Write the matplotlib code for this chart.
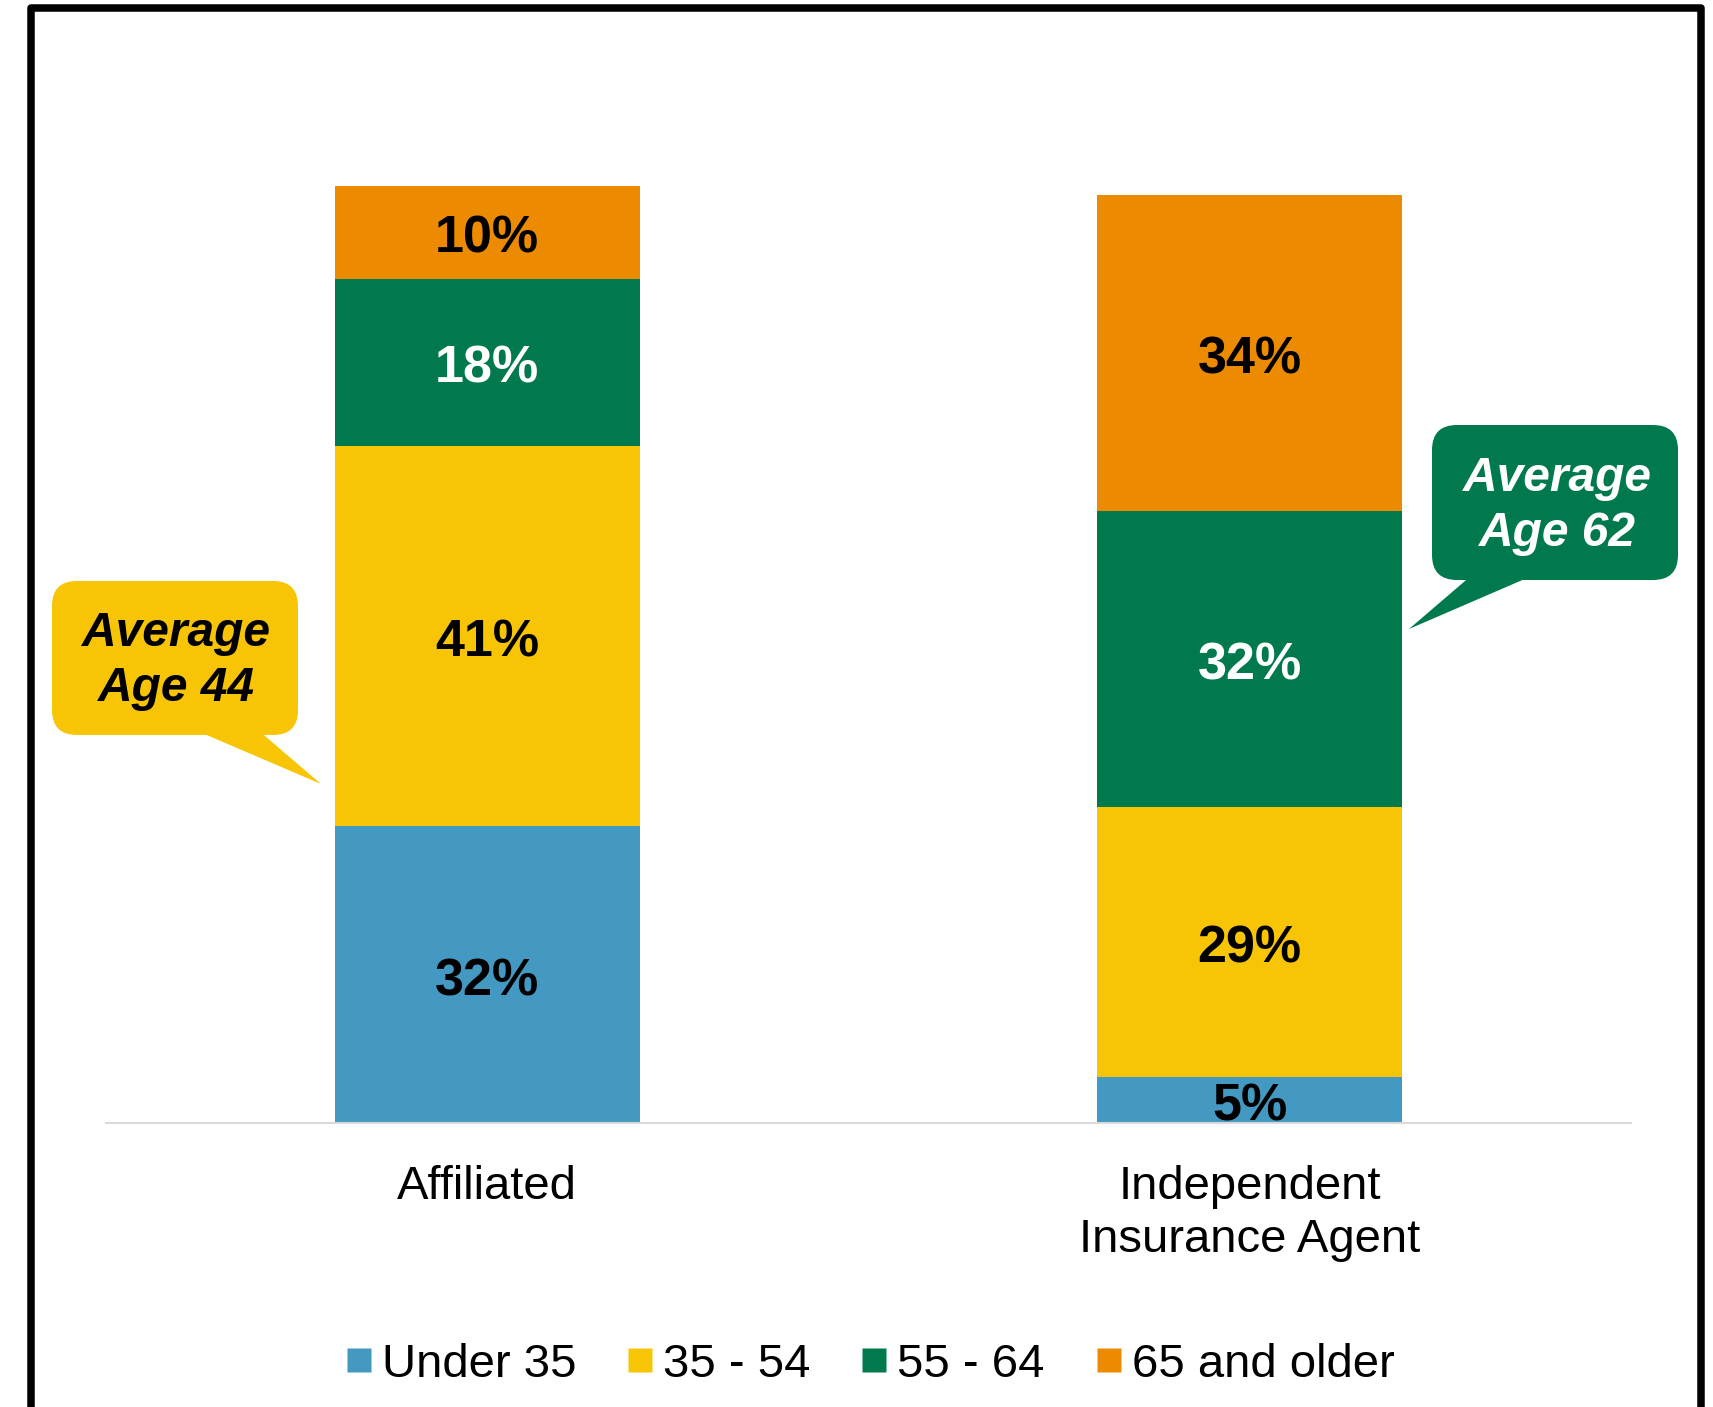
import matplotlib
matplotlib.use("Agg")
import matplotlib.pyplot as plt
from matplotlib.patches import FancyBboxPatch, Polygon, PathPatch
from matplotlib.path import Path
from matplotlib.lines import Line2D
from matplotlib.transforms import Affine2D, ScaledTranslation

# --- data -------------------------------------------------------------
categories = ["Affiliated", "Independent\nInsurance Agent"]
age_groups = ["Under 35", "35 - 54", "55 - 64", "65 and older"]
under_35 = [32, 5]
age_35_54 = [41, 29]
age_55_64 = [18, 32]
age_65_plus = [10, 34]
average_age = [44, 62]

series = [under_35, age_35_54, age_55_64, age_65_plus]
colors = ["#4399C1", "#F7C505", "#007A4D", "#ED8B00"]
label_colors = ["black", "black", "white", "black"]

# --- figure -----------------------------------------------------------
W, H = 1713, 1407
DPI = 100
plt.rcParams["font.family"] = ["Liberation Sans", "DejaVu Sans"]
fig = plt.figure(figsize=(W / DPI, H / DPI), dpi=DPI)

# pixel coordinates with the origin at the top-left corner
px = Affine2D().scale(1 / DPI, -1 / DPI).translate(0, H / DPI) + fig.dpi_scale_trans

ax = fig.add_axes([106 / W, (H - 1123) / H, (1631 - 106) / W, 1020.8 / H])
ax.set_xlim(-0.5, 1.5)
ax.set_ylim(0, 110)

# segment labels sit a touch below the geometric centre
label_shift = ax.transData + ScaledTranslation(0, -7 / DPI, fig.dpi_scale_trans)

x = list(range(len(categories)))
bottom = [0] * len(categories)
for vals, col, lcol in zip(series, colors, label_colors):
    ax.bar(x, vals, width=0.4, bottom=bottom, color=col, edgecolor="none")
    for xi, b, v in zip(x, bottom, vals):
        ax.text(xi, b + v / 2, f"{v}%", ha="center", va="center",
                fontsize=37.5, fontweight="bold", color=lcol,
                transform=label_shift)
    bottom = [b + v for b, v in zip(bottom, vals)]

for s in ["top", "right", "left"]:
    ax.spines[s].set_visible(False)
ax.spines["bottom"].set_color("#d9d9d9")
ax.spines["bottom"].set_linewidth(1.5)
ax.set_yticks([])
ax.set_xticks(x)
ax.set_xticklabels(categories, fontsize=34, linespacing=1.28)
ax.tick_params(axis="x", length=0, pad=30)

# --- legend -----------------------------------------------------------
handles = [Line2D([], [], linestyle="none", marker="s", markersize=17.3,
                  markerfacecolor=c, markeredgecolor="none") for c in colors]
fig.legend(handles, age_groups, loc="center", ncol=4, frameon=False,
           bbox_to_anchor=(870 / W, 42 / H), fontsize=34,
           handlelength=0.55, handletextpad=0.21, columnspacing=1.08)

# --- average-age callouts ----------------------------------------------
def callout(box, tail, color, text, text_color, center):
    x0, y0, x1, y1 = box
    fig.patches.append(FancyBboxPatch((x0, y0), x1 - x0, y1 - y0,
                                      boxstyle="round,pad=0,rounding_size=25",
                                      facecolor=color, edgecolor="none",
                                      transform=px, figure=fig))
    fig.patches.append(Polygon(tail, closed=True, facecolor=color,
                               edgecolor="none", transform=px, figure=fig))
    fig.text(center[0], center[1], text, transform=px, ha="center",
             va="center", fontsize=34.5, fontweight="bold", style="italic",
             color=text_color, linespacing=1.3)

callout((52, 581, 298, 735), [(195, 730), (258, 730), (321, 784)],
        colors[1], f"Average\nAge {average_age[0]}", "black", (176, 661))
callout((1432, 425, 1678, 580), [(1472, 575), (1534, 575), (1409, 629)],
        colors[2], f"Average\nAge {average_age[1]}", "white", (1557, 506))

# --- outer frame ------------------------------------------------------
frame = Path([(30.5, 1430), (30.5, 7.5), (1700.5, 7.5), (1700.5, 1430)],
             [Path.MOVETO, Path.LINETO, Path.LINETO, Path.LINETO])
fig.patches.append(PathPatch(frame, facecolor="none", edgecolor="black",
                             linewidth=5.4, joinstyle="round",
                             transform=px, figure=fig))

fig.savefig("out.png", dpi=DPI, facecolor="white")
